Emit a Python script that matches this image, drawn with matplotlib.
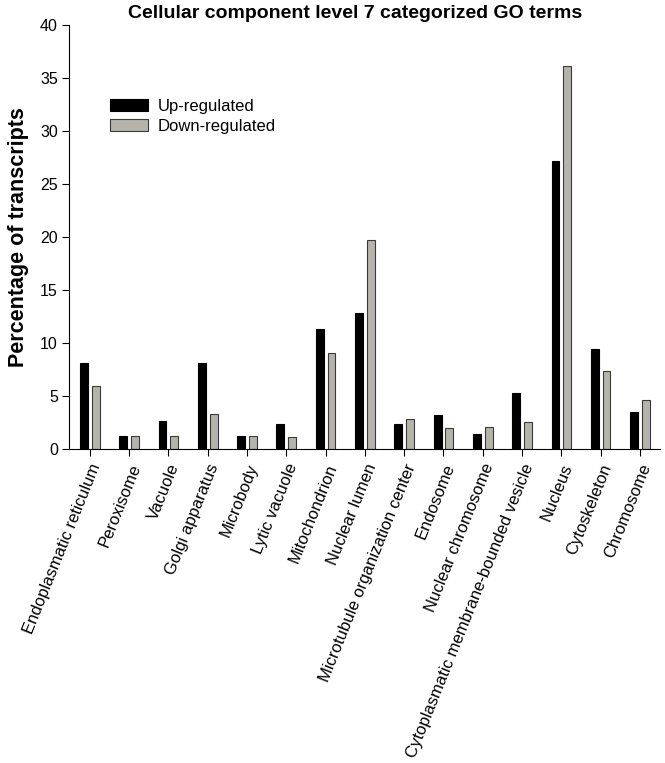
import numpy as np
import matplotlib.pyplot as plt

plt.rcParams['font.family'] = ['Liberation Sans', 'DejaVu Sans']

categories = ['Endoplasmatic reticulum', 'Peroxisome', 'Vacuole', 'Golgi apparatus',
              'Microbody', 'Lytic vacuole', 'Mitochondrion', 'Nuclear lumen',
              'Microtubule organization center', 'Endosome', 'Nuclear chromosome',
              'Cytoplasmatic membrane-bounded vesicle', 'Nucleus', 'Cytoskeleton',
              'Chromosome']
up_regulated = [8.1, 1.25, 2.6, 8.1, 1.25, 2.4, 11.3, 12.8, 2.35, 3.25, 1.4, 5.3, 27.2, 9.45, 3.45]
down_regulated = [5.9, 1.25, 1.25, 3.3, 1.25, 1.1, 9.1, 19.7, 2.8, 1.95, 2.1, 2.5, 36.1, 7.4, 4.6]

W, H = 665, 763
fig = plt.figure(figsize=(W / 100, H / 100), dpi=100)
ax = fig.add_axes([69 / W, 1 - 449 / H, (660 - 69) / W, 424 / H])

x = np.arange(len(categories))
w = 0.2
ax.bar(x - 0.15, up_regulated, w, color='black', edgecolor='black', linewidth=0.8,
       label='Up-regulated')
ax.bar(x + 0.15, down_regulated, w, color='#b4b4aa', edgecolor='#3a3a3a', linewidth=0.8,
       label='Down-regulated')

ax.set_xlim(-0.53, len(categories) - 1 + 0.51)
ax.set_ylim(0, 40)
ax.set_yticks(range(0, 41, 5))
ax.set_xticks(x)
ax.set_xticklabels(categories, rotation=68, ha='right', rotation_mode='anchor', fontsize=12)
ax.tick_params(axis='y', labelsize=11.5, direction='out', length=5, pad=3)
ax.tick_params(axis='x', direction='out', length=5, pad=4)
ax.spines['top'].set_visible(False)
ax.spines['right'].set_visible(False)

ax.set_ylabel('Percentage of transcripts', fontsize=15.5, fontweight='bold', labelpad=8)
fig.text(355 / W, 1 - 13 / H, 'Cellular component level 7 categorized GO terms',
         fontsize=14, fontweight='bold', ha='center', va='center')
fig.legend(loc='upper left', bbox_to_anchor=(110 / W, 1 - 99 / H), frameon=False,
           fontsize=12, handlelength=2.3, handleheight=0.7, handletextpad=0.55,
           labelspacing=0.28, borderpad=0, borderaxespad=0)

fig.savefig('out.png', dpi=100)
